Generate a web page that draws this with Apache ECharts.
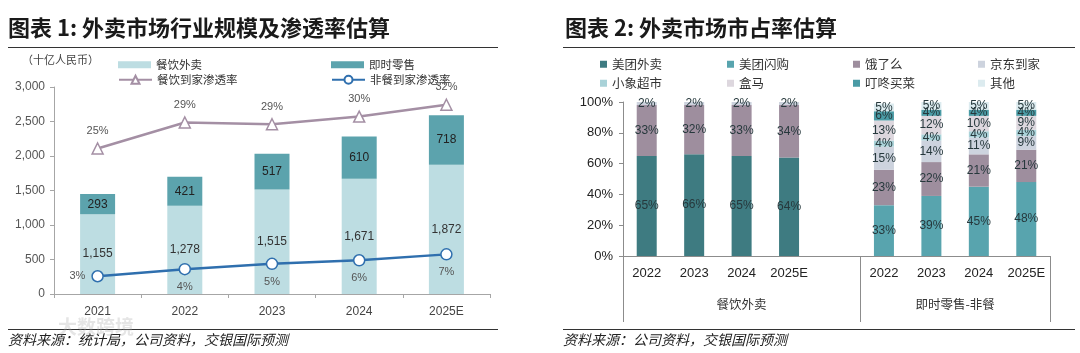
<!DOCTYPE html>
<html lang="zh">
<head>
    <meta charset="UTF-8">
    <title>外卖市场</title>
    <style>
        html, body { margin: 0; padding: 0; background: white; }
        #fig { width: 1080px; height: 353px; }
    </style>
    <script src="https://cdn.jsdelivr.net/npm/echarts@6/dist/echarts.min.js"></script>
</head>
<body>
<div id="fig"></div>
<script>
    // 图表1 数据
    let years1 = ['2021', '2022', '2023', '2024', '2025E'];
    let foodDelivery = [1155, 1278, 1515, 1671, 1872];
    let instantRetail = [293, 421, 517, 610, 718];
    let foodRate = [24.6, 29.0, 28.7, 30.0, 32.0];
    let nonFoodRate = [3.0, 4.2, 5.1, 5.7, 6.7];

    // 图表2 数据 (中间空一格分组)
    let years2 = ['2022', '2023', '2024', '2025E', '', '2022', '2023', '2024', '2025E'];
    let groupNames = ['餐饮外卖', '即时零售-非餐'];
    let mtWaimai = [65, 66, 65, 64, '-', '-', '-', '-', '-'];
    let mtShangou = ['-', '-', '-', '-', '-', 33, 39, 45, 48];
    let eleme = [33, 32, 33, 34, '-', 23, 22, 21, 21];
    let jdDaojia = [2, 2, 2, 2, '-', 15, 14, 11, 9];
    let xiaoxiang = ['-', '-', '-', '-', '-', 4, 4, 4, 4];
    let hema = ['-', '-', '-', '-', '-', 13, 12, 10, 9];
    let dingdong = ['-', '-', '-', '-', '-', 6, 4, 4, 4];
    let others = ['-', '-', '-', '-', '-', 5, 5, 5, 5];

    let FONT = '"Liberation Sans", "Noto Sans CJK SC", sans-serif';
    let CJK = '"Noto Sans CJK SC", sans-serif';

    let fig = echarts.init(document.getElementById('fig'), null, {renderer: 'canvas'});

    let shareSeries = [
        ['美团外卖', mtWaimai, '#3e7b81'],
        ['美团闪购', mtShangou, '#58a4ae'],
        ['饿了么', eleme, '#9e8e9e'],
        ['京东到家', jdDaojia, '#cdd3de'],
        ['小象超市', xiaoxiang, '#a9d2d8'],
        ['盒马', hema, '#ddd7de'],
        ['叮咚买菜', dingdong, '#4a9ba5'],
        ['其他', others, '#dcebef']
    ].map(function (s) {
        return {
            name: s[0], type: 'bar', stack: 'share', xAxisIndex: 2, yAxisIndex: 2,
            barWidth: 20, data: s[1], itemStyle: {color: s[2]},
            label: {
                show: true, position: 'inside', fontSize: 12, color: '#26383c', fontFamily: FONT,
                formatter: function (p) { return (p.value === '-' || p.value == null) ? '' : p.value + '%'; }
            }
        };
    });

    // 右侧图例 4列2行
    let legendCols = [595, 722, 848, 973];
    let legends2 = shareSeries.map(function (s, i) {
        return {
            data: [s.name], left: legendCols[i % 4], top: i < 4 ? 53 : 72,
            icon: 'rect', itemWidth: 7, itemHeight: 7, itemGap: 6,
            textStyle: {fontSize: 12.5, color: '#333', fontFamily: CJK}
        };
    });

    let legends1 = [
        {data: ['餐饮外卖'], left: 113, top: 54, icon: 'rect', itemWidth: 33, itemHeight: 7},
        {data: ['即时零售'], left: 326, top: 54, icon: 'rect', itemWidth: 33, itemHeight: 7},
        {data: ['餐饮到家渗透率'], left: 113, top: 69, itemWidth: 33, itemHeight: 10},
        {data: ['非餐到家渗透率'], left: 326, top: 69, itemWidth: 33, itemHeight: 10}
    ].map(function (l) {
        l.textStyle = {fontSize: 11.5, color: '#333', fontFamily: CJK};
        return l;
    });

    let option = {
        animation: false,
        textStyle: {fontFamily: FONT},
        legend: legends1.concat(legends2),
        grid: [
            {left: 54, top: 87, width: 436, height: 207},
            {left: 623, top: 102, width: 427, height: 154}
        ],
        xAxis: [
            {
                type: 'category', gridIndex: 0, data: years1,
                axisLine: {lineStyle: {color: '#a6a6a6'}},
                axisTick: {show: true, length: 4, lineStyle: {color: '#a6a6a6'}},
                axisLabel: {color: '#444', fontSize: 12, margin: 12}
            },
            {
                type: 'category', gridIndex: 0, data: years1, show: false
            },
            {
                type: 'category', gridIndex: 1, data: years2,
                axisLine: {lineStyle: {color: '#8c8c8c'}},
                axisTick: {show: false},
                axisLabel: {color: '#222', fontSize: 13, margin: 11, interval: 0}
            },
            {
                type: 'value', gridIndex: 1, min: 0, max: 9, position: 'bottom',
                axisLine: {show: false},
                splitLine: {show: false},
                axisTick: {show: true, length: 66, customValues: [0, 5, 9], lineStyle: {color: '#8c8c8c'}},
                axisLabel: {
                    customValues: [2.5, 7], margin: 42, fontSize: 12.5, color: '#333', fontFamily: CJK,
                    formatter: function (v) { return v < 5 ? groupNames[0] : groupNames[1]; }
                }
            }
        ],
        yAxis: [
            {
                type: 'value', gridIndex: 0, min: 0, max: 3000, interval: 500,
                axisLine: {show: true, lineStyle: {color: '#a6a6a6'}},
                axisTick: {show: true, length: 4, lineStyle: {color: '#a6a6a6'}},
                splitLine: {show: false},
                axisLabel: {
                    color: '#555', fontSize: 12, margin: 9,
                    formatter: function (v) { return v.toLocaleString('en-US'); }
                }
            },
            {
                type: 'value', gridIndex: 0, min: 0, max: 35, show: false, splitLine: {show: false}
            },
            {
                type: 'value', gridIndex: 1, min: 0, max: 100, interval: 20,
                axisLine: {show: true, lineStyle: {color: '#8c8c8c'}},
                axisTick: {show: true, length: 4, lineStyle: {color: '#8c8c8c'}},
                splitLine: {show: false},
                axisLabel: {color: '#222', fontSize: 13, margin: 10, formatter: '{value}%'}
            }
        ],
        series: [
            {
                name: '餐饮外卖', type: 'bar', stack: 'scale', barWidth: 35, data: foodDelivery,
                itemStyle: {color: '#bddde2'},
                label: {
                    show: true, position: 'inside', color: '#333', fontSize: 12,
                    formatter: function (p) { return p.value.toLocaleString('en-US'); }
                }
            },
            {
                name: '即时零售', type: 'bar', stack: 'scale', barWidth: 35, data: instantRetail,
                itemStyle: {color: '#5ca3ad'},
                label: {show: true, position: 'inside', color: '#222', fontSize: 12}
            },
            {
                name: '餐饮到家渗透率', type: 'line', yAxisIndex: 1, data: foodRate,
                symbol: 'triangle', symbolSize: 11, z: 5,
                lineStyle: {color: '#a48fa4', width: 2.5},
                itemStyle: {color: '#fff', borderColor: '#a48fa4', borderWidth: 1.5},
                label: {
                    show: true, position: 'top', distance: 6, color: '#555', fontSize: 11,
                    formatter: function (p) { return Math.round(p.value) + '%'; }
                }
            },
            {
                name: '非餐到家渗透率', type: 'line', yAxisIndex: 1, z: 5,
                data: nonFoodRate.map(function (v, i) {
                    return {value: v, label: {position: i === 0 ? 'left' : 'bottom'}};
                }),
                symbol: 'circle', symbolSize: 11,
                lineStyle: {color: '#2f6fae', width: 2.5},
                itemStyle: {color: '#fff', borderColor: '#2f6fae', borderWidth: 1.5},
                label: {
                    show: true, distance: 6, color: '#555', fontSize: 11,
                    formatter: function (p) { return Math.round(p.value) + '%'; }
                }
            }
        ].concat(shareSeries),
        graphic: [
            {type: 'text', left: 8, top: 17, style: {text: '图表 1: 外卖市场行业规模及渗透率估算', font: 'bold 22px ' + CJK, fill: '#1a1a1a'}},
            {type: 'text', left: 565, top: 17, style: {text: '图表 2: 外卖市场市占率估算', font: 'bold 22px ' + CJK, fill: '#1a1a1a'}},
            {type: 'line', shape: {x1: 8, y1: 47.5, x2: 498, y2: 47.5}, style: {stroke: '#333', lineWidth: 1.2}},
            {type: 'line', shape: {x1: 563, y1: 47.5, x2: 1075, y2: 47.5}, style: {stroke: '#333', lineWidth: 1.2}},
            {type: 'line', shape: {x1: 8, y1: 329.5, x2: 498, y2: 329.5}, style: {stroke: '#333', lineWidth: 1.2}},
            {type: 'line', shape: {x1: 563, y1: 329.5, x2: 1075, y2: 329.5}, style: {stroke: '#333', lineWidth: 1.2}},
            {type: 'text', left: 22, top: 54, style: {text: '（十亿人民币）', font: '11px ' + CJK, fill: '#444'}},
            {type: 'text', left: 8, top: 333, style: {text: '资料来源：统计局，公司资料，交银国际预测', font: 'italic 14px ' + CJK, fill: '#222'}},
            {type: 'text', left: 563, top: 333, style: {text: '资料来源：公司资料，交银国际预测', font: 'italic 14px ' + CJK, fill: '#222'}},
            {type: 'text', left: 58, top: 317, style: {text: '大数跨境', font: 'bold 19px ' + CJK, fill: 'rgba(170,170,170,0.3)'}}
        ]
    };

    fig.setOption(option);
</script>
</body>
</html>
